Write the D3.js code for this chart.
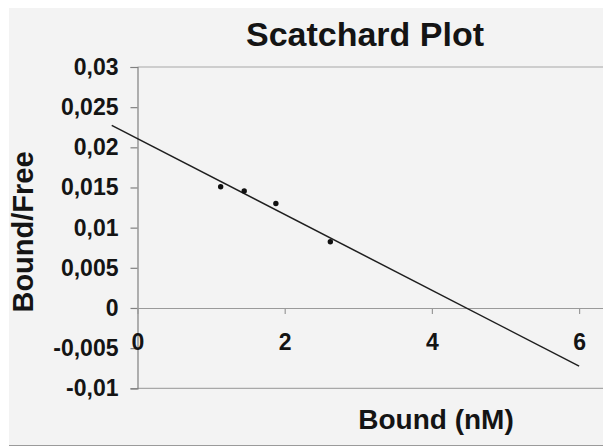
<!DOCTYPE html>
<html>
<head>
<meta charset="utf-8">
<script src="https://cdn.jsdelivr.net/npm/d3@7"></script>
<style>
  html, body { margin: 0; padding: 0; background: #ffffff; }
  svg { display: block; }
  text { font-family: "Liberation Sans", Arial, Helvetica, sans-serif; font-weight: bold; fill: #141414; }
</style>
</head>
<body>
<svg id="chart" width="603" height="448"></svg>
<script>
// Scatchard data: bound ligand (nM) vs bound/free ratio
const boundValues = [1.13, 1.45, 1.88, 2.62];
const ratioValues = [0.0151, 0.01457, 0.0130, 0.00825];

// Extent of the fitted regression line along the x axis
const trendRange = [-0.35, 6];

const xTicks = [0, 2, 4, 6];
const xTickLabels = ["0", "2", "4", "6"];
const yTicks = [0.03, 0.025, 0.02, 0.015, 0.01, 0.005, 0, -0.005, -0.01];
const yTickLabels = ["0,03", "0,025", "0,02", "0,015", "0,01", "0,005", "0", "-0,005", "-0,01"];

const chartTitle = "Scatchard Plot";
const xTitle = "Bound (nM)";
const yTitle = "Bound/Free";

const W = 603, H = 448;
const svg = d3.select("#chart");

// chart area
svg.append("rect")
  .attr("x", 9).attr("y", 8)
  .attr("width", W).attr("height", 437)
  .attr("fill", "#f3f3f3");
svg.append("line")
  .attr("x1", 9).attr("x2", W)
  .attr("y1", 445.5).attr("y2", 445.5)
  .attr("stroke", "#9a9a9a").attr("stroke-width", 1.2);

const x = d3.scaleLinear().domain([0, 6.35]).range([137.5, 137.5 + 6.35 * 73.6]);
const y = d3.scaleLinear().domain([-0.01, 0.03]).range([388.3, 67]);

// top and bottom plot-area borders
[0.03, -0.01].forEach(v => {
  svg.append("line")
    .attr("x1", x(0)).attr("x2", W)
    .attr("y1", y(v)).attr("y2", y(v))
    .attr("stroke", "#a8a8a8").attr("stroke-width", 1.2);
});

const tickFont = 23;

// y axis
const yAxis = svg.append("g")
  .attr("transform", `translate(${x(0)},0)`)
  .call(d3.axisLeft(y)
    .tickValues(yTicks)
    .tickSize(7)
    .tickPadding(12)
    .tickFormat((d, i) => yTickLabels[i]));
yAxis.select(".domain").attr("stroke", "#808080").attr("stroke-width", 1.2);
yAxis.selectAll(".tick line").attr("stroke", "#808080").attr("stroke-width", 1.2);
yAxis.selectAll(".tick text")
  .attr("font-size", tickFont)
  .attr("font-family", "'Liberation Sans', Arial, sans-serif")
  .attr("font-weight", "bold")
  .attr("fill", "#141414");

// x axis along y = 0
const xAxis = svg.append("g")
  .attr("transform", `translate(0,${y(0)})`)
  .call(d3.axisBottom(x)
    .tickValues(xTicks)
    .tickSize(6)
    .tickPadding(20)
    .tickSizeOuter(0)
    .tickFormat((d, i) => xTickLabels[i]));
xAxis.select(".domain").attr("stroke", "#9a9a9a").attr("stroke-width", 1.2);
xAxis.selectAll(".tick line").attr("stroke", "#9a9a9a").attr("stroke-width", 1.2);
xAxis.selectAll(".tick text")
  .attr("font-size", tickFont)
  .attr("font-family", "'Liberation Sans', Arial, sans-serif")
  .attr("font-weight", "bold")
  .attr("fill", "#141414");

// least-squares fit of the points
const n = boundValues.length;
const mx = d3.mean(boundValues), my = d3.mean(ratioValues);
let sxy = 0, sxx = 0;
for (let i = 0; i < n; i++) {
  sxy += (boundValues[i] - mx) * (ratioValues[i] - my);
  sxx += (boundValues[i] - mx) ** 2;
}
const slope = sxy / sxx;
const intercept = my - slope * mx;

const fitLine = d3.line()
  .x(d => x(d))
  .y(d => y(intercept + slope * d));
svg.append("path")
  .datum(trendRange)
  .attr("d", fitLine)
  .attr("fill", "none")
  .attr("stroke", "#1e1e1e")
  .attr("stroke-width", 1.5);

// data points
svg.append("g").selectAll("circle")
  .data(boundValues.map((b, i) => [b, ratioValues[i]]))
  .join("circle")
  .attr("cx", d => x(d[0]))
  .attr("cy", d => y(d[1]))
  .attr("r", 2.7)
  .attr("fill", "#111");

// titles
svg.append("text")
  .attr("x", 365).attr("y", 46)
  .attr("text-anchor", "middle")
  .attr("font-size", 34)
  .text(chartTitle);

svg.append("text")
  .attr("x", 436).attr("y", 429)
  .attr("text-anchor", "middle")
  .attr("font-size", 28)
  .text(xTitle);

svg.append("text")
  .attr("transform", "translate(33,232) rotate(-90)")
  .attr("text-anchor", "middle")
  .attr("font-size", 29)
  .text(yTitle);
</script>
</body>
</html>
